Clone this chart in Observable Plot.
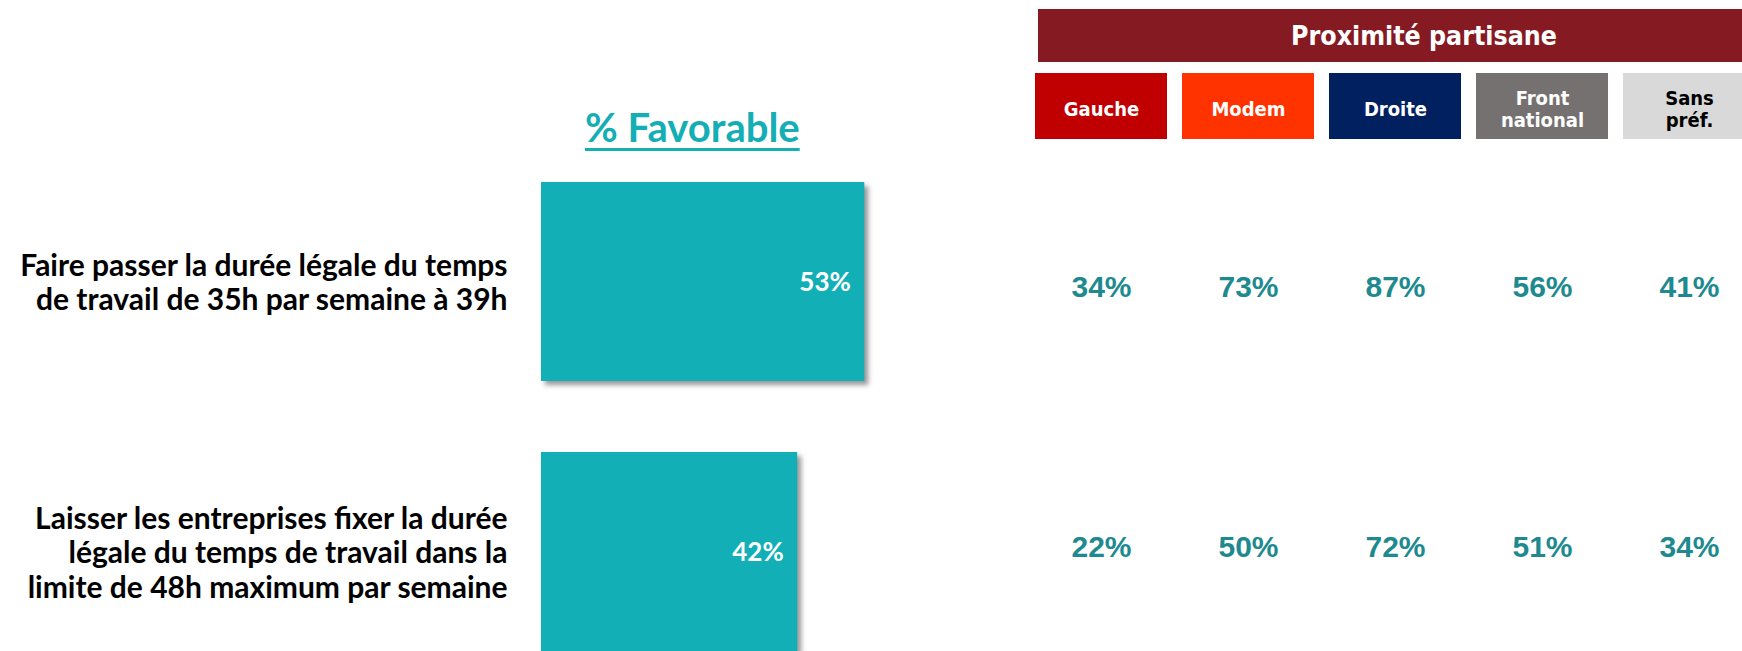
<!DOCTYPE html>
<html><head><meta charset="utf-8">
<script src="https://cdn.jsdelivr.net/npm/d3@7"></script>
<script src="https://cdn.jsdelivr.net/npm/@observablehq/plot@0.6"></script>
<style>
html,body{margin:0;padding:0;background:#fff;overflow:hidden}
#wrap{position:relative;width:1742px;height:651px;overflow:hidden;background:#fff}
#wrap > *{position:absolute}
#title{left:585px;top:103px;font-family:Lato;font-weight:bold;font-size:40px;color:#14AEB5;text-decoration:underline;text-decoration-thickness:3px;text-underline-offset:6px;white-space:nowrap}
#group{left:1038px;top:9px;width:772px;height:53px;background:#861A22;color:#fff;font-family:'DejaVu Sans Condensed','DejaVu Sans';font-stretch:condensed;font-weight:bold;font-size:26.5px;display:flex;align-items:center;justify-content:center}
svg{max-width:none !important}
</style></head>
<body>
<div id="wrap">
  <div id="title">% Favorable</div>
  <div id="group">Proximité partisane</div>
</div>
<script>
// ---- data ----
const questionLabels = [
  "Faire passer la durée légale du temps\nde travail de 35h par semaine à 39h",
  "Laisser les entreprises fixer la durée\nlégale du temps de travail dans la\nlimite de 48h maximum par semaine"
];
const favorable = [53, 42];
const parties = ["Gauche", "Modem", "Droite", "Front national", "Sans préf."];
const partyLabels = ["Gauche", "Modem", "Droite", "Front\nnational", "Sans\npréf."];
const partyColors = ["#C00000", "#FF3300", "#002060", "#767171", "#D9D9D9"];
const partyTextColors = ["#FFFFFF", "#FFFFFF", "#FFFFFF", "#FFFFFF", "#000000"];
const gauche = [34, 22];
const modem = [73, 50];
const droite = [87, 72];
const frontNational = [56, 51];
const sansPref = [41, 34];

// ---- tables ----
const partyValues = [gauche, modem, droite, frontNational, sansPref];
const barData = questionLabels.map((q, i) => ({question: q, value: favorable[i]}));
const cells = [];
questionLabels.forEach((q, i) => partyValues.forEach((arr, j) => cells.push({question: q, party: parties[j], value: arr[i]})));
const partyData = parties.map((p, i) => ({party: p, label: partyLabels[i], color: partyColors[i], textColor: partyTextColors[i]}));

const yScale = {type: "band", domain: questionLabels, range: [182, 651], paddingInner: 0.263, paddingOuter: 0, label: null};
const xParty = {type: "band", domain: parties, range: [-11, 741], padding: 0.1, axis: null};
const wrap = document.getElementById("wrap");

// ---- left: bars ----
const left = Plot.plot({
  width: 1030, height: 651,
  marginLeft: 541, marginRight: 0, marginTop: 0, marginBottom: 0,
  style: {fontFamily: "Lato", background: "transparent", overflow: "visible"},
  x: {domain: [0, 100], range: [541, 1151], axis: null},
  y: yScale,
  marks: [
    Plot.barX(barData, {x: "value", y: "question", fill: "#444", fillOpacity: 0.55, dx: 4, dy: 4}),
    Plot.barX(barData, {x: "value", y: "question", fill: "#13AFB7"}),
    Plot.text(barData, {x: "value", y: "question", text: d => d.value + "%", textAnchor: "end", dx: -14, dy: 1, fill: "#fff", fontSize: 26, fontWeight: "bold", fontFamily: "Lato"}),
    Plot.axisY({tickSize: 0, tickPadding: 34, fontSize: 30, fontWeight: "bold", lineHeight: 1.15, fontFamily: "Lato", label: null})
  ]
});
left.style.left = "0px"; left.style.top = "0px";
// blur the shadow bars
const ls = d3.select(left);
ls.insert("defs", ":first-child").append("filter").attr("id", "shadowBlur")
  .attr("x", "-10%").attr("y", "-10%").attr("width", "130%").attr("height", "130%")
  .append("feGaussianBlur").attr("stdDeviation", 2.5);
ls.select('g[aria-label="bar"]').attr("filter", "url(#shadowBlur)");
wrap.appendChild(left);

// ---- right: party header cells ----
const header = Plot.plot({
  width: 712, height: 66, margin: 0,
  style: {background: "transparent"},
  x: xParty,
  color: {type: "identity"},
  marks: [
    Plot.cell(partyData, {x: "party", fill: "color"}),
    Plot.text(partyData, {x: "party", text: "label", fill: "textColor", fontSize: 20, fontWeight: "bold", lineHeight: 1.1, fontFamily: "'DejaVu Sans Condensed', 'DejaVu Sans'", dy: 2})
  ]
});
header.style.left = "1030px"; header.style.top = "73px";
wrap.appendChild(header);

// ---- right: values by party ----
const values = Plot.plot({
  width: 712, height: 651, margin: 0,
  style: {background: "transparent"},
  x: xParty,
  y: {...yScale, range: [190, 643], axis: null},
  marks: [
    Plot.text(cells, {x: "party", y: "question", text: d => d.value + "%", fontSize: 30, fontWeight: "bold", fill: "#1E8A8F", fontFamily: "'Liberation Sans', Arial"})
  ]
});
values.style.left = "1030px"; values.style.top = "0px";
wrap.appendChild(values);
</script>
</body></html>
